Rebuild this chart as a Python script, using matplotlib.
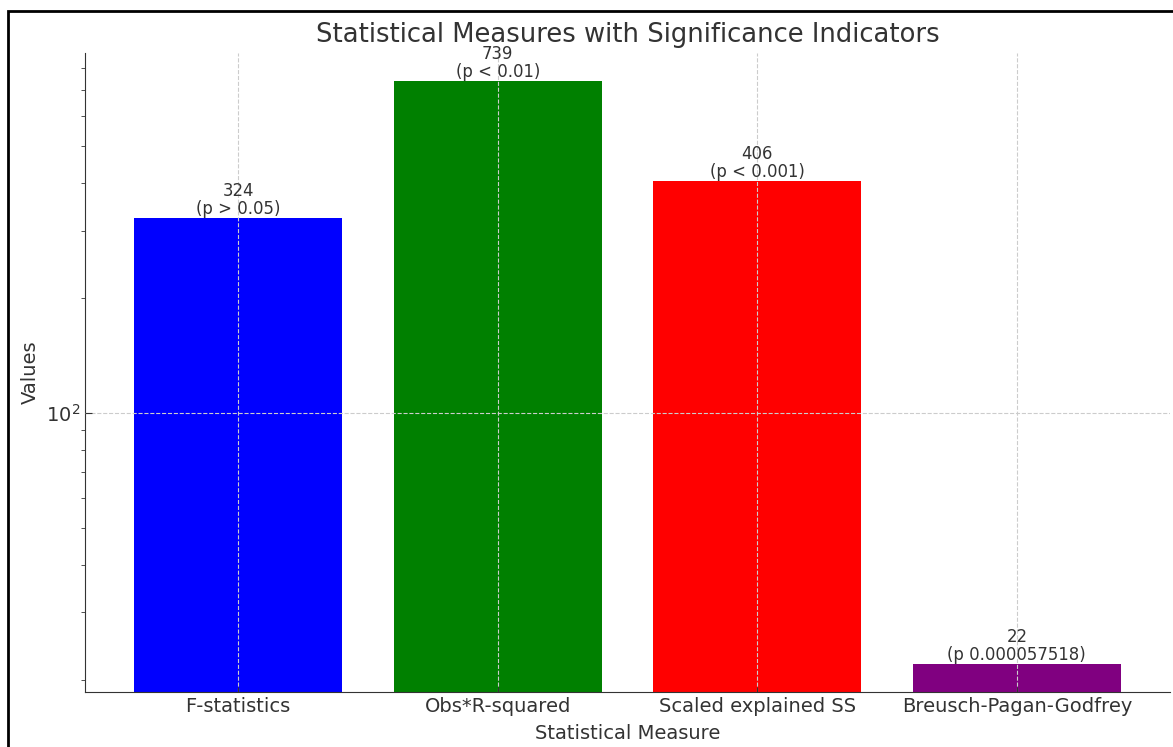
import matplotlib
matplotlib.use("Agg")
import matplotlib.pyplot as plt
from matplotlib.patches import Rectangle

categories = ["F-statistics", "Obs*R-squared", "Scaled explained SS", "Breusch-Pagan-Godfrey"]
values = [324, 739, 406, 22]
p_labels = ["(p > 0.05)", "(p < 0.01)", "(p < 0.001)", "(p 0.000057518)"]
colors = ["blue", "green", "red", "purple"]

txt = "#333333"
plt.rcParams["text.color"] = txt
plt.rcParams["axes.labelcolor"] = txt
plt.rcParams["xtick.color"] = txt
plt.rcParams["ytick.color"] = txt

fig = plt.figure(figsize=(11.73, 7.47), dpi=100)
ax = fig.add_axes([85/1173, 1-691.7/747, (1170-85)/1173, (691.7-53)/747])

x = range(len(categories))
bars = ax.bar(x, values, color=colors, width=0.8)
ax.set_yscale("log")
ax.set_ylim(18.6, 876)
ax.set_xticks(list(x))
ax.set_xticklabels(categories, fontsize=14)
ax.tick_params(axis="both", direction="in", labelsize=14)
ax.tick_params(axis="y", which="major", length=5)
ax.tick_params(axis="y", which="minor", length=3)

for b, v, p in zip(bars, values, p_labels):
    ax.text(b.get_x() + b.get_width()/2, v, f"{v}\n{p}", ha="center", va="bottom",
            fontsize=11.9, linespacing=1.0)

ax.grid(True, which="major", linestyle="--", color="#cccccc", linewidth=0.8)
ax.set_axisbelow(False)
for s in ["top", "right"]:
    ax.spines[s].set_visible(False)
for s in ["left", "bottom"]:
    ax.spines[s].set_color(txt)

ax.set_xlabel("Statistical Measure", fontsize=14, labelpad=6)
ax.set_ylabel("Values", fontsize=14, labelpad=4)
ax.set_title("Statistical Measures with Significance Indicators", fontsize=18.6, pad=8)

fig.patches.append(Rectangle((8/1173, -0.1), 1.2, 1 - 11/747 + 0.1, transform=fig.transFigure,
                             fill=False, edgecolor="black", linewidth=2, zorder=10))

fig.savefig("out.png", dpi=100)
